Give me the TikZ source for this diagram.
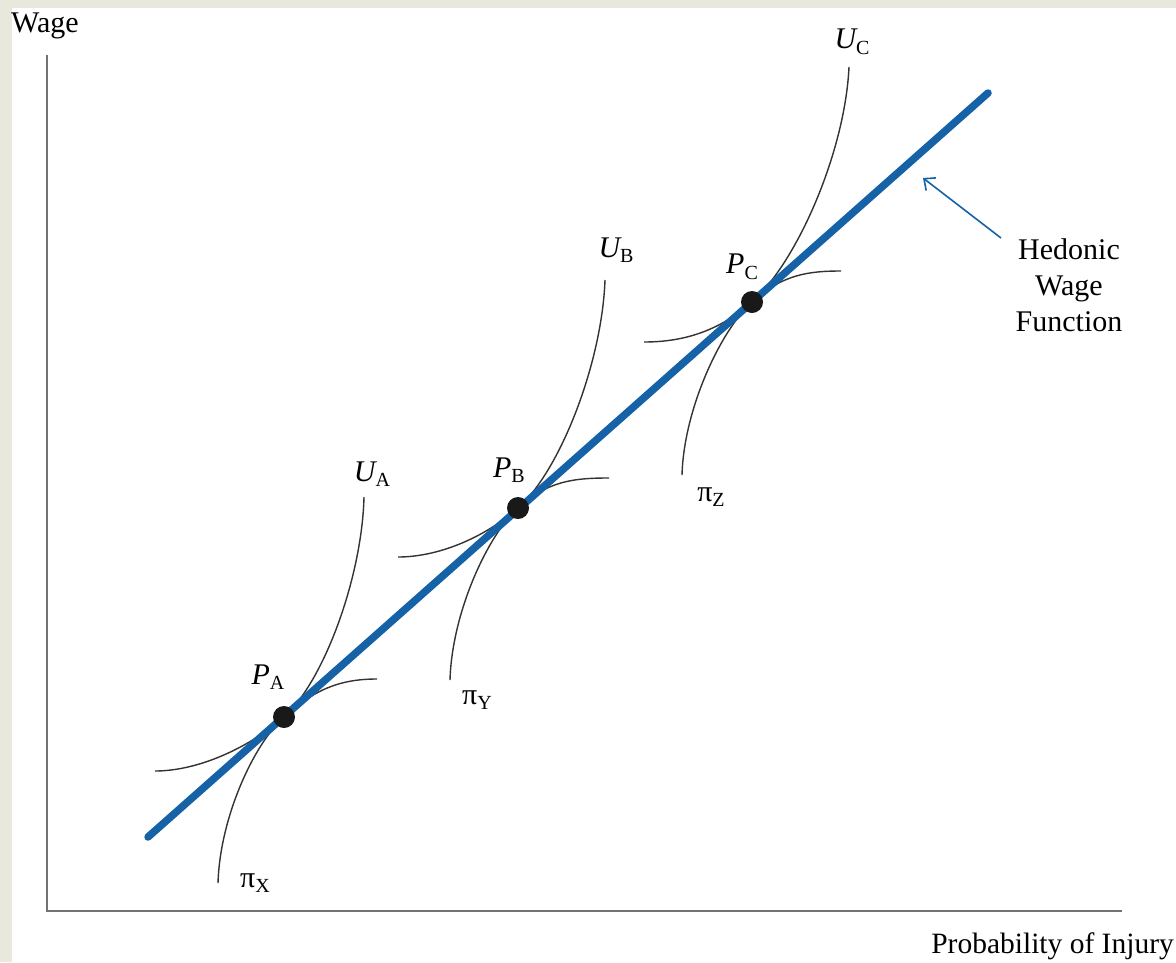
\documentclass[tikz,border=0pt]{standalone}
\usepackage{fontspec}
\setmainfont{Liberation Serif}
\usetikzlibrary{arrows.meta}
\definecolor{hedblue}{RGB}{22,98,166}
\definecolor{bgbeige}{RGB}{232,232,220}
\definecolor{axisgray}{RGB}{115,115,115}
\newcommand\sublab[2]{{#1}\raisebox{-0.4ex}{\upshape\fontsize{20}{20}\selectfont #2}}
\begin{document}
\begin{tikzpicture}[x=1pt,y=-1pt,
  axisline/.style={draw=axisgray,line width=2pt},
  hedline/.style={draw=hedblue,line width=7.5pt,line cap=round},
  thincurve/.style={draw=black!80,line width=1.4pt},
  dotnode/.style={circle,fill=black!90,minimum size=22pt,inner sep=0pt},
  lbl/.style={inner sep=0pt,font=\fontsize{30}{32}\selectfont},
  arrowline/.style={draw=hedblue,line width=1.6pt,-{Straight Barb[length=9pt,width=16pt,line width=1.6pt]}}]
% background
\fill[bgbeige] (0,0) rectangle (1176,962);
\fill[white] (12,8) rectangle (1176,962);
\useasboundingbox (0,0) rectangle (1176,962);
% axes
\coordinate (Ytop) at (47,55);
\coordinate (O) at (47,911);
\coordinate (Xend) at (1122,911);
\draw[axisline] (Ytop) -- (O) -- (Xend);
\node[lbl,anchor=west] (wage) at (11,26) {Wage};
\node[lbl,anchor=east,font=\fontsize{29.5}{32}\selectfont] (prob) at (1174,946) {Probability of Injury};
% hedonic wage function
\coordinate (H0) at (148,837);
\coordinate (H1) at (988,93);
% curves around A
\begin{scope}[shift={(284,717)}]
\draw[thincurve] (-129,54) .. controls (-85,54) and (-34,30) .. (0,0) .. controls (40,-36) and (78,-140) .. (80,-220);
\draw[thincurve] (-66,166) .. controls (-64,100) and (-30,27) .. (0,0) .. controls (30,-27) and (55,-38) .. (93,-38);
\end{scope}
% curves around B
\begin{scope}[shift={(518,508)}]
\draw[thincurve] (-120,49) .. controls (-80,49) and (-34,30) .. (0,0) .. controls (42,-37) and (84,-145) .. (87,-228);
\draw[thincurve] (-68,172) .. controls (-66,104) and (-30,27) .. (0,0) .. controls (30,-27) and (55,-30) .. (91,-30);
\end{scope}
% curves around C
\begin{scope}[shift={(752,302)}]
\draw[thincurve] (-108,40) .. controls (-70,40) and (-34,30) .. (0,0) .. controls (45,-40) and (93,-150) .. (97,-235);
\draw[thincurve] (-70,173) .. controls (-68,105) and (-30,27) .. (0,0) .. controls (30,-27) and (55,-31) .. (89,-31);
\end{scope}
\draw[hedline] (H0) -- (H1);
\node[dotnode] (PA) at (284,717) {};
\node[dotnode] (PB) at (518,508) {};
\node[dotnode] (PC) at (752,302) {};
% labels
\node[lbl] (UA) at (372,474) {\sublab{\itshape U}{A}};
\node[lbl] (UB) at (616,250) {\sublab{\itshape U}{B}};
\node[lbl] (UC) at (852,42) {\sublab{\itshape U}{C}};
\node[lbl] (PAl) at (268,677) {\sublab{\itshape P}{A}};
\node[lbl] (PBl) at (509,470) {\sublab{\itshape P}{B}};
\node[lbl] (PCl) at (742,267) {\sublab{\itshape P}{C}};
\node[lbl] (piX) at (255,883) {\sublab{π}{X}};
\node[lbl] (piY) at (477,700) {\sublab{π}{Y}};
\node[lbl] (piZ) at (711,497) {\sublab{π}{Z}};
% hedonic label and arrow
\node[lbl,align=center,font=\fontsize{30}{36}\selectfont] (hed) at (1069,285) {Hedonic\\Wage\\Function};
\coordinate (arrtip) at (923,178);
\coordinate (arrstart) at (1001,238);
\draw[arrowline] (arrstart) -- (arrtip);
\end{tikzpicture}
\end{document}
